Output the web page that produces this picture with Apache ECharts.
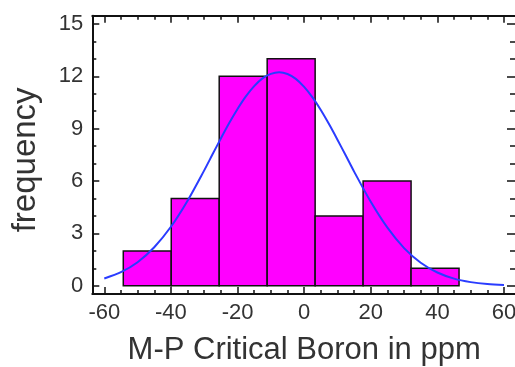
<!DOCTYPE html>
<html>
<head>
<meta charset="utf-8">
<script src="https://cdn.jsdelivr.net/npm/echarts@6/dist/echarts.min.js"></script>
<style>
html,body{margin:0;padding:0;background:#fff;}
#c{width:515px;height:367px;}
</style>
</head>
<body>
<div id="c"></div>
<script>
// Histogram bins (edges) and counts
const binEdges = [-54.3, -39.9, -25.5, -11.1, 3.3, 17.7, 32.1, 46.5];
const counts = [2, 5, 12, 13, 4, 6, 1];
// Fitted normal curve
const curveX = [-60, -55, -50, -45, -40, -35, -30, -27.5, -25, -22.5, -20, -17.5, -15, -12.5, -10, -7.5, -5, -2.5, 0, 2.5, 5, 7.5, 10, 12.5, 15, 20, 25, 30, 35, 40, 45, 50, 55, 60];
const curveY = [0.42, 0.78, 1.35, 2.21, 3.38, 4.87, 6.61, 7.53, 8.44, 9.32, 10.13, 10.85, 11.44, 11.88, 12.14, 12.23, 12.13, 11.85, 11.39, 10.79, 10.07, 9.25, 8.37, 7.46, 6.54, 4.81, 3.33, 2.16, 1.32, 0.76, 0.41, 0.21, 0.10, 0.05];
// Tick labels
const xMajorTicks = [-60, -40, -20, 0, 20, 40, 60];
const xMinorTicks = [-55, -50, -45, -35, -30, -25, -15, -10, -5, 5, 10, 15, 25, 30, 35, 45, 50, 55];
const yMajorTicks = [0, 3, 6, 9, 12, 15];
const yMinorTicks = [1, 2, 4, 5, 7, 8, 10, 11, 13, 14];
const xTitle = 'M-P Critical Boron in ppm';
const yTitle = 'frequency';

const XMIN = -63.6, XMAX = 63.6, YMIN = -0.47, YMAX = 15.47;
const FONT = '"Liberation Sans", Arial, sans-serif';
const tickStyle = {color: '#111', width: 1.5};

function xAx(opts) {
  return Object.assign({
    type: 'value', min: XMIN, max: XMAX,
    axisLine: {show: true, onZero: false, lineStyle: {color: '#111', width: 2}},
    splitLine: {show: false},
    axisLabel: {show: false},
    axisTick: {show: false}
  }, opts);
}
function yAx(opts) {
  return Object.assign({
    type: 'value', min: YMIN, max: YMAX,
    axisLine: {show: true, onZero: false, lineStyle: {color: '#111', width: 2}},
    splitLine: {show: false},
    axisLabel: {show: false},
    axisTick: {show: false}
  }, opts);
}
const noLine = {show: false, onZero: false};

const chart = echarts.init(document.getElementById('c'));
chart.setOption({
  animation: false,
  backgroundColor: '#fff',
  grid: {left: 92.3, right: -1, top: 15.7, bottom: 73, containLabel: false, outerBoundsMode: 'none'},
  xAxis: [
    xAx({position: 'bottom',
      name: xTitle, nameLocation: 'middle', nameGap: 41,
      nameTextStyle: {fontFamily: FONT, fontSize: 31, color: '#333'},
      axisTick: {show: true, inside: true, length: 7, lineStyle: tickStyle, customValues: xMajorTicks},
      axisLabel: {show: true, margin: 8, fontFamily: FONT, fontSize: 22, color: '#333', customValues: xMajorTicks}
    }),
    xAx({position: 'bottom', axisLine: noLine,
      axisTick: {show: true, inside: true, length: 4, lineStyle: tickStyle, customValues: xMinorTicks}}),
    xAx({position: 'top',
      axisTick: {show: true, inside: true, length: 7, lineStyle: tickStyle, customValues: xMajorTicks}}),
    xAx({position: 'top', axisLine: noLine,
      axisTick: {show: true, inside: true, length: 4, lineStyle: tickStyle, customValues: xMinorTicks}})
  ],
  yAxis: [
    yAx({position: 'left',
      name: yTitle, nameLocation: 'middle', nameGap: 50, nameRotate: 90,
      nameTextStyle: {fontFamily: FONT, fontSize: 33, color: '#333', padding: [0, 10, 0, 0]},
      axisTick: {show: true, inside: true, length: 7, lineStyle: tickStyle, customValues: yMajorTicks},
      axisLabel: {show: true, margin: 9, fontFamily: FONT, fontSize: 22, color: '#333', customValues: yMajorTicks}
    }),
    yAx({position: 'left', axisLine: noLine,
      axisTick: {show: true, inside: true, length: 4, lineStyle: tickStyle, customValues: yMinorTicks}}),
    yAx({position: 'right',
      axisTick: {show: true, inside: true, length: 9, lineStyle: tickStyle, customValues: yMajorTicks}}),
    yAx({position: 'right', axisLine: noLine,
      axisTick: {show: true, inside: true, length: 6, lineStyle: tickStyle, customValues: yMinorTicks}})
  ],
  series: [
    {
      type: 'custom',
      xAxisIndex: 0, yAxisIndex: 0,
      data: counts.map((c, i) => [binEdges[i], binEdges[i + 1], c]),
      renderItem: function (params, api) {
        const p0 = api.coord([api.value(0), 0]);
        const p1 = api.coord([api.value(1), api.value(2)]);
        return {
          type: 'rect',
          shape: {x: p0[0], y: p1[1], width: p1[0] - p0[0], height: p0[1] - p1[1]},
          style: {fill: '#ff00ff', stroke: '#111', lineWidth: 1.5}
        };
      },
      z: 2
    },
    {
      type: 'line',
      xAxisIndex: 0, yAxisIndex: 0,
      data: curveX.map((x, i) => [x, curveY[i]]),
      smooth: 0.3,
      symbol: 'none',
      lineStyle: {color: '#2a3cff', width: 2},
      z: 3
    }
  ]
});
</script>
</body>
</html>
